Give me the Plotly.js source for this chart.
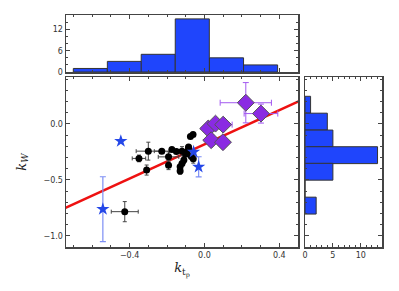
<!DOCTYPE html>
<html><head><meta charset="utf-8">
<script src="https://cdn.plot.ly/plotly-3.0.1.min.js"></script>
<style>html,body{margin:0;padding:0;background:#fff;}#chart{width:399px;height:291px;}</style>
</head><body><div id="chart"></div>
<script>
// Black circles
const circX    = [-0.061,-0.075,-0.085,-0.228,-0.174,-0.300,-0.350,-0.309,-0.192,-0.192,-0.120,-0.085,-0.110,-0.120,-0.130,-0.130,-0.100,-0.070,-0.093,-0.150,-0.060,-0.426];
const circY    = [-0.094,-0.113,-0.205,-0.243,-0.228,-0.243,-0.308,-0.412,-0.294,-0.368,-0.243,-0.215,-0.323,-0.353,-0.383,-0.420,-0.270,-0.290,-0.250,-0.245,-0.310,-0.784];
const circXerr = [0,0,0,0.040,0,0.065,0.036,0,0.055,0,0,0,0,0,0,0,0,0,0.030,0,0,0.072];
const circYerr = [0,0,0,0,0,0.080,0.030,0.045,0.045,0.040,0.040,0,0.030,0,0,0.030,0,0,0,0,0.040,0.090];
// Blue stars
const starX    = [-0.447,-0.058,-0.031,-0.543];
const starY    = [-0.154,-0.249,-0.383,-0.762];
const starYerr = [0,0,0.090,0.290];
// Purple diamonds
const diaX     = [0.221,0.302,0.020,0.059,0.100,0.036,0.099];
const diaY     = [0.190,0.093,-0.041,0.003,-0.006,-0.145,-0.163];
const diaXerr  = [0.137,0.090,0,0,0.048,0,0];
const diaYerr  = [0.180,0.085,0,0.045,0,0.050,0];
// Fit line
const fitSlope = 0.764, fitIntercept = -0.183;
const fitXRange = [-0.75, 0.52];
// Top histogram (k_tp)
const topBinCenters = [-0.610,-0.428,-0.247,-0.065,0.118,0.300];
const topCounts     = [1,3,5,15,4,2];
const topBinWidth   = 0.182;
// Right histogram (k_W)
const rightBinCenters = [0.172,0.021,-0.130,-0.279,-0.427,-0.578,-0.730];
const rightCounts     = [1,4,5,13,5,0,2];
const rightBinHeight  = 0.151;

const W=399,H=291;
const fx = p=>p/W, fy = p=>1-p/H;
const frame = '#444';
const tickFont = {family:'DejaVu Sans', size:8, color:'#333'};
function ax(extra){
  return Object.assign({showline:true, linecolor:frame, linewidth:1.5, mirror:'allticks',
    ticks:'inside', ticklen:4, tickwidth:1, tickcolor:frame, showgrid:false, zeroline:false,
    tickfont:tickFont, fixedrange:true}, extra);
}

const traces = [
  {type:'bar', x:topBinCenters, y:topCounts, width:topBinWidth, xaxis:'x2', yaxis:'y2',
   marker:{color:'#1f45fc', line:{color:'#333', width:1}}, hoverinfo:'skip'},
  {type:'bar', orientation:'h', y:rightBinCenters, x:rightCounts, width:rightBinHeight, xaxis:'x3', yaxis:'y3',
   marker:{color:'#1f45fc', line:{color:'#333', width:1}}, hoverinfo:'skip'},
  {type:'scatter', mode:'lines', x:fitXRange, y:fitXRange.map(v=>fitSlope*v+fitIntercept),
   line:{color:'#ee1111', width:2.5}},
  {type:'scatter', mode:'markers', x:circX, y:circY,
   error_x:{type:'data', array:circXerr, color:'#444', thickness:1, width:2},
   error_y:{type:'data', array:circYerr, color:'#444', thickness:1, width:2},
   marker:{color:'#000', size:7, symbol:'circle'}},
  {type:'scatter', mode:'markers', x:starX, y:starY,
   error_y:{type:'data', array:starYerr, color:'#7d8ff5', thickness:1.2, width:3},
   marker:{color:'#2447e8', size:10, symbol:'star', line:{color:'#2447e8', width:0}}},
  {type:'scatter', mode:'markers', x:diaX, y:diaY,
   error_x:{type:'data', array:diaXerr, color:'#a35af0', thickness:1, width:3},
   error_y:{type:'data', array:diaYerr, color:'#a35af0', thickness:1, width:3},
   marker:{color:'#8a2be2', size:13, symbol:'diamond', line:{color:'#555', width:1}}}
];

const layout = {
  width:W, height:H, margin:{l:0,r:0,t:0,b:0}, showlegend:false,
  paper_bgcolor:'#fff', plot_bgcolor:'#fff', bargap:0,
  xaxis: ax({domain:[fx(66),fx(298)], range:[-0.74,0.50], anchor:'y', tickvals:[-0.4,0,0.4], ticktext:['\u22120.4','0.0','0.4'],
    minor:{dtick:0.1, ticklen:2, tickcolor:frame, ticks:'inside'},
    title:{text:'<i>k</i><sub>t<sub>p</sub></sub>', font:{family:'DejaVu Serif', size:13, color:'#222'}, standoff:4}}),
  yaxis: ax({domain:[fy(247),fy(77)], range:[-1.1,0.42], anchor:'x', tickvals:[-1,-0.5,0], ticktext:['\u22121.0','\u22120.5','0.0'],
    minor:{dtick:0.1, ticklen:2, tickcolor:frame, ticks:'inside'},
    title:{text:'<i>k</i><sub><i>W</i></sub>', font:{family:'DejaVu Serif', size:13, color:'#222'}, standoff:14}}),
  xaxis2: ax({domain:[fx(66),fx(298)], range:[-0.74,0.50], anchor:'y2', tickvals:[-0.4,0,0.4], showticklabels:false,
    minor:{dtick:0.1, ticklen:2, tickcolor:frame, ticks:'inside'}}),
  yaxis2: ax({domain:[fy(72),fy(15)], range:[0,16.1], anchor:'x2', tickvals:[0,6,12], ticktext:['0','6','12'],
    minor:{dtick:2, ticklen:2, tickcolor:frame, ticks:'inside'}}),
  xaxis3: ax({domain:[fx(305),fx(382)], range:[0,13.8], anchor:'y3', tickvals:[0,5,10], ticktext:['0','5','10'],
    minor:{dtick:1, ticklen:2, tickcolor:frame, ticks:'inside'}}),
  yaxis3: ax({domain:[fy(247),fy(77)], range:[-1.1,0.42], anchor:'x3', tickvals:[-1,-0.5,0], showticklabels:false,
    minor:{dtick:0.1, ticklen:2, tickcolor:frame, ticks:'inside'}})
};
Plotly.newPlot('chart', traces, layout, {staticPlot:true, displayModeBar:false});
</script></body></html>
